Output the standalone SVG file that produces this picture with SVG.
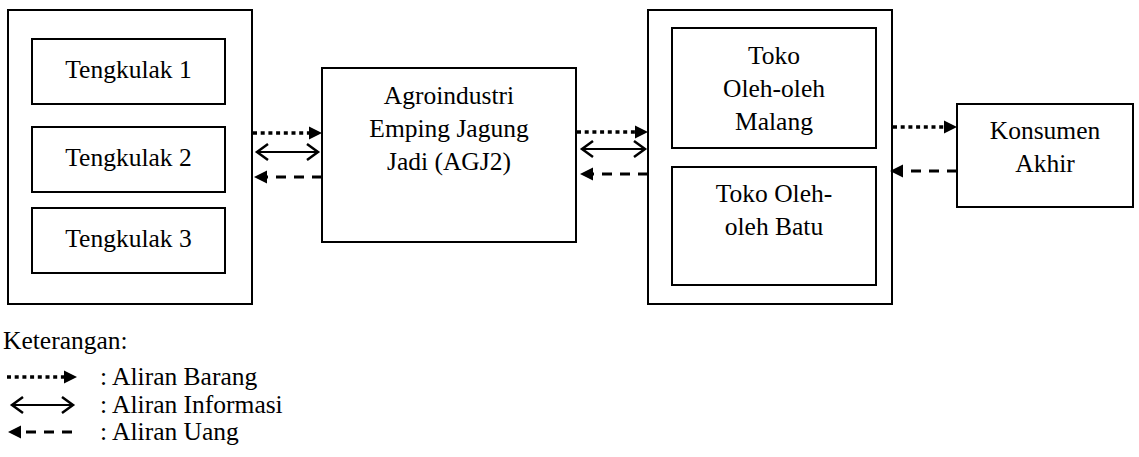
<svg xmlns="http://www.w3.org/2000/svg" width="1139" height="457" viewBox="0 0 1139 457">
<style>
  .box{fill:#fff;stroke:#000;stroke-width:2}
  .t{font-size:25.5px;fill:#000}
  .c{text-anchor:middle}
  .dot{stroke:#000;stroke-width:3.5;stroke-dasharray:4 3.7;fill:none;marker-end:url(#tri)}
  .dash{stroke:#000;stroke-width:3;stroke-dasharray:10 8;fill:none;marker-end:url(#tri)}
  .dbl{stroke:#000;stroke-width:2;fill:none;marker-start:url(#chev);marker-end:url(#chev)}
</style>
<defs>
  <marker id="tri" markerUnits="userSpaceOnUse" markerWidth="14" markerHeight="14" viewBox="0 -7 14 14" refX="0" refY="0" orient="auto" overflow="visible">
    <path d="M0,-6.5 L13,0 L0,6.5 z" fill="#000"/>
  </marker>
  <marker id="chev" markerUnits="userSpaceOnUse" markerWidth="16" markerHeight="20" viewBox="-14 -10 16 20" refX="0" refY="0" orient="auto-start-reverse" overflow="visible">
    <path d="M-11,-8 L0,0 L-11,8" fill="none" stroke="#000" stroke-width="2.5"/>
  </marker>
</defs>
<rect width="1139" height="457" fill="#fff"/>

<g font-family="Liberation Serif, Times New Roman, serif">
<g id="tengkulak-group">
  <rect class="box" x="8" y="10" width="244" height="294"/>
  <g id="tengkulak1"><rect class="box" x="32" y="39" width="193" height="65"/><text class="t c" x="128.5" y="78">Tengkulak 1</text></g>
  <g id="tengkulak2"><rect class="box" x="32" y="127" width="193" height="65"/><text class="t c" x="128.5" y="166">Tengkulak 2</text></g>
  <g id="tengkulak3"><rect class="box" x="32" y="208" width="193" height="65"/><text class="t c" x="128.5" y="247">Tengkulak 3</text></g>
</g>

<g id="agj2">
  <rect class="box" x="322" y="68" width="254" height="174"/>
  <text class="t c" x="449" y="104">Agroindustri</text>
  <text class="t c" x="449" y="137">Emping Jagung</text>
  <text class="t c" x="449" y="170">Jadi (AGJ2)</text>
</g>

<g id="toko-group">
  <rect class="box" x="648" y="10" width="244" height="294"/>
  <g id="toko-malang">
    <rect class="box" x="672" y="28" width="204" height="120"/>
    <text class="t c" x="774" y="64">Toko</text>
    <text class="t c" x="774" y="97">Oleh-oleh</text>
    <text class="t c" x="774" y="130">Malang</text>
  </g>
  <g id="toko-batu">
    <rect class="box" x="672" y="167" width="204" height="118"/>
    <text class="t c" x="774" y="202">Toko Oleh-</text>
    <text class="t c" x="774" y="235">oleh Batu</text>
  </g>
</g>

<g id="konsumen">
  <rect class="box" x="957" y="104" width="176" height="103"/>
  <text class="t c" x="1045" y="139">Konsumen</text>
  <text class="t c" x="1045" y="172">Akhir</text>
</g>

<g id="connectors">
  <line class="dot" x1="253" y1="133" x2="309" y2="133"/>
  <line class="dbl" x1="257" y1="152" x2="318" y2="152"/>
  <line class="dash" x1="322" y1="177" x2="267" y2="177"/>

  <line class="dot" x1="577" y1="132" x2="635" y2="132"/>
  <line class="dbl" x1="582" y1="149" x2="645" y2="149"/>
  <line class="dash" x1="648" y1="174" x2="593" y2="174"/>

  <line class="dot" x1="893" y1="127" x2="944" y2="127"/>
  <line class="dash" x1="957" y1="171" x2="903" y2="171"/>
</g>

<g id="legend">
  <text class="t" x="3" y="349">Keterangan:</text>
  <line class="dot" x1="7" y1="377" x2="64" y2="377"/>
  <text class="t" x="100" y="385">: Aliran Barang</text>
  <line class="dbl" x1="12" y1="405" x2="73" y2="405"/>
  <text class="t" x="100" y="413">: Aliran Informasi</text>
  <line class="dash" x1="72" y1="432" x2="21" y2="432"/>
  <text class="t" x="100" y="440">: Aliran Uang</text>
</g>
</g>
</svg>
